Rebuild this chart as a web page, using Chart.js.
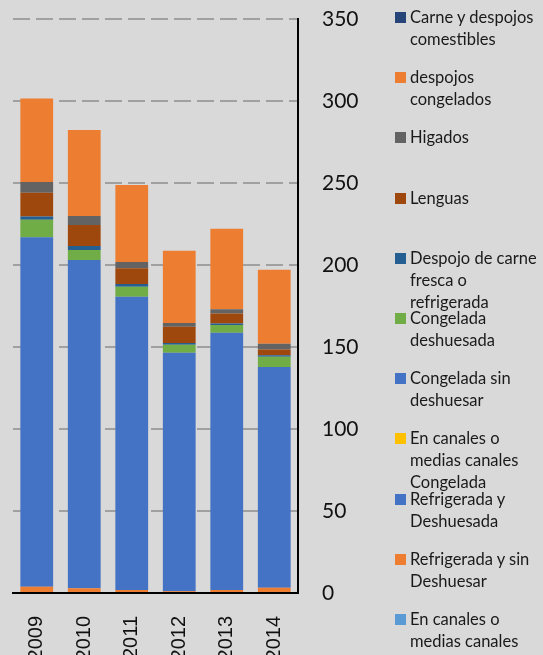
<!DOCTYPE html>
<html>
<head>
<meta charset="utf-8">
<script src="https://cdn.jsdelivr.net/npm/chart.js@4/dist/chart.umd.min.js"></script>
<style>
  html, body { margin: 0; padding: 0; background: #d9d9d9; overflow: hidden; }
  #wrap { position: relative; width: 543px; height: 655px; overflow: hidden; }
  #chart { position: absolute; left: 0; top: 0; }
  #legend { position: absolute; left: 0; top: 0; font-family: Lato, sans-serif; font-size: 16.5px; color: #1a1a1a; }
  .item { position: absolute; left: 395px; white-space: nowrap; line-height: 22px; }
  .box { position: absolute; left: 0; top: 6px; width: 11px; height: 11px; }
  .txt { position: absolute; left: 15px; top: 0; }
</style>
</head>
<body>
<div id="wrap">
  <canvas id="chart" width="543" height="700"></canvas>
  <div id="legend"></div>
</div>
<script>
const years = ["2009", "2010", "2011", "2012", "2013", "2014"];

// series, bottom of stack first
const enCanales = [0, 0, 0, 0, 0, 0];
const refrigeradaSinDeshuesar = [3.8, 2.9, 1.8, 1.0, 1.8, 3.2];
const refrigeradaDeshuesada = [0, 0, 0, 0, 0, 0];
const enCanalesCongelada = [0, 0, 0, 0, 0, 0];
const congeladaSinDeshuesar = [213.1, 200.1, 178.9, 145.5, 156.9, 134.6];
const congeladaDeshuesada = [10.7, 6.1, 6.1, 4.9, 4.7, 6.3];
const despojoFresca = [1.9, 2.5, 1.6, 1.0, 1.0, 0.8];
const lenguas = [14.6, 12.8, 9.6, 10.0, 6.1, 3.5];
const higados = [6.5, 5.5, 3.8, 2.2, 2.5, 3.6];
const despojosCongelados = [51.0, 52.4, 47.0, 44.1, 49.1, 45.1];
const carneDespojos = [0, 0, 0, 0, 0, 0];

const yTicks = [0, 50, 100, 150, 200, 250, 300, 350];

const series = [
  { lines: ["En canales o", "medias canales"], data: enCanales, color: "#5B9BD5" },
  { lines: ["Refrigerada y sin", "Deshuesar"], data: refrigeradaSinDeshuesar, color: "#ED7D31" },
  { lines: ["Refrigerada y", "Deshuesada"], data: refrigeradaDeshuesada, color: "#4472C4" },
  { lines: ["En canales o", "medias canales", "Congelada"], data: enCanalesCongelada, color: "#FFC000" },
  { lines: ["Congelada sin", "deshuesar"], data: congeladaSinDeshuesar, color: "#4472C4" },
  { lines: ["Congelada", "deshuesada"], data: congeladaDeshuesada, color: "#70AD47" },
  { lines: ["Despojo de carne", "fresca o", "refrigerada"], data: despojoFresca, color: "#255E91" },
  { lines: ["Lenguas"], data: lenguas, color: "#9E480E" },
  { lines: ["Higados"], data: higados, color: "#636363" },
  { lines: ["despojos", "congelados"], data: despojosCongelados, color: "#ED7D31" },
  { lines: ["Carne y despojos", "comestibles"], data: carneDespojos, color: "#264478" },
];

const datasets = series.map((s) => ({
  label: s.lines.join(" "),
  data: s.data,
  backgroundColor: s.color,
  borderWidth: 0,
  barPercentage: 0.69,
  categoryPercentage: 1,
}));

new Chart(document.getElementById("chart"), {
  type: "bar",
  data: { labels: years, datasets: datasets },
  options: {
    responsive: false,
    animation: false,
    layout: { padding: { left: 13, top: 19, right: 0, bottom: 0 } },
    plugins: { legend: { display: false }, tooltip: { enabled: false } },
    scales: {
      x: {
        stacked: true,
        grid: { display: false },
        border: { display: true, color: "#000", width: 2 },
        ticks: {
          minRotation: 90,
          maxRotation: 90,
          padding: 15,
          color: "#111",
          font: { family: "Liberation Sans", size: 20 },
        },
        afterFit: (scale) => {
          scale.height = 107;
          scale.paddingLeft = 0;
          scale.paddingRight = 0;
        },
      },
      y: {
        stacked: true,
        position: "right",
        min: 0,
        max: 350,
        afterBuildTicks: (scale) => { scale.ticks = yTicks.map((v) => ({ value: v })); },
        grid: { color: "#a0a0a0", lineWidth: 2, drawTicks: false },
        border: { display: true, color: "#000", width: 2, dash: [17, 6] },
        ticks: {
          padding: 24,
          color: "#111",
          font: { family: "Lato", size: 21 },
        },
        afterFit: (scale) => {
          scale.width = 245;
          scale.paddingTop = 0;
          scale.paddingBottom = 0;
        },
      },
    },
  },
});

// legend, top of the stack first
const legend = document.getElementById("legend");
series.slice().reverse().forEach((s, i) => {
  const item = document.createElement("div");
  item.className = "item";
  item.style.top = (17 + i * 60.2 - 11) + "px";
  const box = document.createElement("div");
  box.className = "box";
  box.style.background = s.color;
  const txt = document.createElement("div");
  txt.className = "txt";
  txt.innerHTML = s.lines.join("<br>");
  item.appendChild(box);
  item.appendChild(txt);
  legend.appendChild(item);
});
</script>
</body>
</html>
